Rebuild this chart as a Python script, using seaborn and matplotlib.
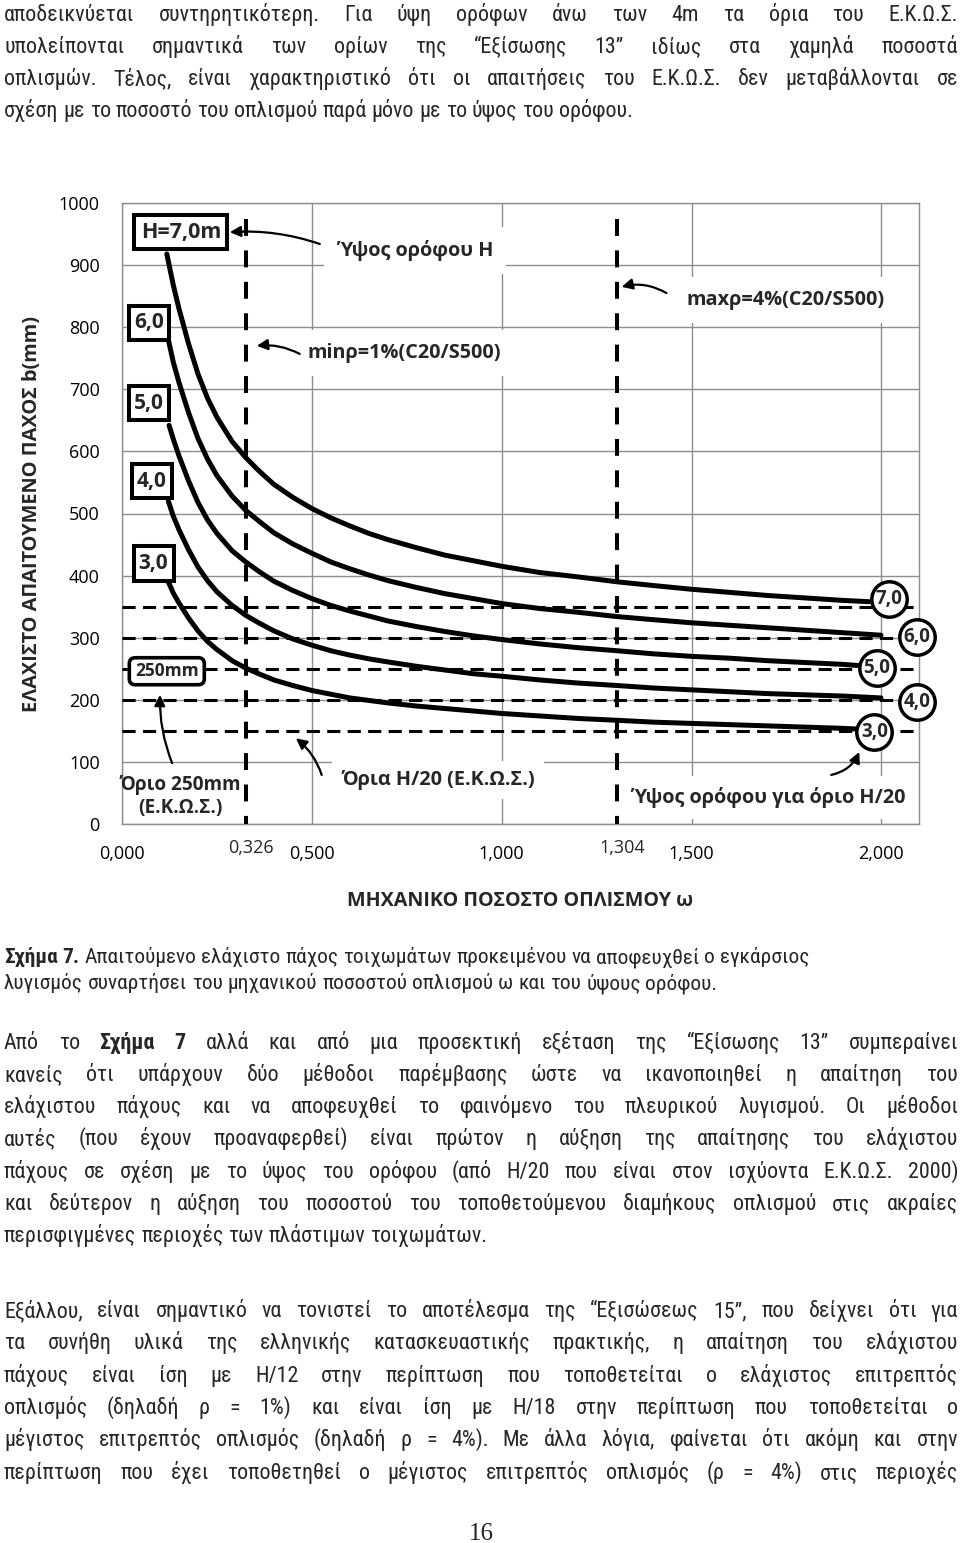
import math
import matplotlib
matplotlib.use("Agg")
import matplotlib.pyplot as plt
import matplotlib.transforms as mtransforms
from matplotlib.patches import FancyBboxPatch
from matplotlib.font_manager import FontProperties, fontManager
from matplotlib import ft2font
import seaborn as sns
import pandas as pd

# ---------------------------------------------------------------- data
curve_labels = ["3,0", "4,0", "5,0", "6,0", "7,0"]          # storey height H (m)

omega_h3 = [0.122, 0.135, 0.150, 0.175, 0.200, 0.225, 0.250, 0.290, 0.326, 0.360, 0.400, 0.450, 0.500, 0.550,
            0.600, 0.650, 0.700, 0.775, 0.850, 0.925, 1.000, 1.100, 1.200, 1.304, 1.400, 1.500, 1.600, 1.700,
            1.800, 1.900, 1.933]
b_h3 = [390, 372, 356, 332, 311, 294, 281, 263, 251, 242, 232, 223, 215, 209,
        203, 199, 195, 190, 186, 182, 178, 174, 170, 167, 164, 162, 160, 158,
        156, 154, 153]

omega_h4 = [0.122, 0.135, 0.150, 0.175, 0.200, 0.225, 0.250, 0.290, 0.326, 0.360, 0.400, 0.450, 0.500, 0.550,
            0.600, 0.650, 0.700, 0.775, 0.850, 0.925, 1.000, 1.100, 1.200, 1.304, 1.400, 1.500, 1.600, 1.700,
            1.800, 1.900, 1.999]
b_h4 = [520, 496, 474, 442, 414, 392, 374, 352, 336, 324, 311, 298, 288, 279,
        272, 266, 261, 254, 248, 242, 238, 232, 227, 223, 219, 216, 213, 210,
        208, 206, 203]

omega_h5 = [0.124, 0.135, 0.150, 0.175, 0.200, 0.225, 0.250, 0.290, 0.326, 0.360, 0.400, 0.450, 0.500, 0.550,
            0.600, 0.650, 0.700, 0.775, 0.850, 0.925, 1.000, 1.100, 1.200, 1.304, 1.400, 1.500, 1.600, 1.700,
            1.800, 1.900, 1.942]
b_h5 = [642, 620, 593, 553, 518, 490, 468, 440, 422, 407, 391, 376, 363, 352,
        343, 335, 327, 318, 310, 303, 297, 290, 284, 279, 274, 270, 267, 263,
        260, 257, 255]

omega_h6 = [0.122, 0.135, 0.150, 0.175, 0.200, 0.225, 0.250, 0.290, 0.326, 0.360, 0.400, 0.450, 0.500, 0.550,
            0.600, 0.650, 0.700, 0.775, 0.850, 0.925, 1.000, 1.100, 1.200, 1.304, 1.400, 1.500, 1.600, 1.700,
            1.800, 1.900, 1.999]
b_h6 = [780, 744, 711, 663, 621, 588, 561, 528, 505, 488, 469, 451, 436, 422,
        411, 401, 392, 381, 371, 363, 355, 347, 341, 334, 329, 324, 320, 316,
        312, 308, 304]

omega_h7 = [0.118, 0.135, 0.150, 0.175, 0.200, 0.225, 0.250, 0.290, 0.326, 0.360, 0.400, 0.450, 0.500, 0.550,
            0.600, 0.650, 0.700, 0.775, 0.850, 0.925, 1.000, 1.100, 1.200, 1.304, 1.400, 1.500, 1.600, 1.700,
            1.800, 1.900, 1.968]
b_h7 = [918, 868, 830, 774, 725, 686, 655, 616, 590, 569, 547, 526, 508, 493,
        480, 468, 458, 445, 433, 424, 415, 405, 398, 390, 384, 378, 373, 368,
        364, 360, 358]

h20_limits_mm = [150, 200, 250, 300, 350]         # H/20 limits (E.K.O.S.)
omega_limits = [0.326, 1.304]                      # min rho = 1 %, max rho = 4 %
omega_limit_labels = ["0,326", "1,304"]

x_ticks = [0.0, 0.5, 1.0, 1.5, 2.0]
x_tick_labels = ["0,000", "0,500", "1,000", "1,500", "2,000"]
y_ticks = [0, 100, 200, 300, 400, 500, 600, 700, 800, 900, 1000]

para1_lines = [
    "αποδεικνύεται συντηρητικότερη. Για ύψη ορόφων άνω των 4m τα όρια του Ε.Κ.Ω.Σ.",
    "υπολείπονται σημαντικά των ορίων της “Εξίσωσης 13” ιδίως στα χαμηλά ποσοστά",
    "οπλισμών. Τέλος, είναι χαρακτηριστικό ότι οι απαιτήσεις του Ε.Κ.Ω.Σ. δεν μεταβάλλονται σε",
    "σχέση με το ποσοστό του οπλισμού παρά μόνο με το ύψος του ορόφου.",
]
caption_lines = [
    "*Σχήμα *7. Απαιτούμενο ελάχιστο πάχος τοιχωμάτων προκειμένου να αποφευχθεί ο εγκάρσιος",
    "λυγισμός συναρτήσει του μηχανικού ποσοστού οπλισμού ω και του ύψους ορόφου.",
]
para2_lines = [
    "Από το *Σχήμα *7 αλλά και από μια προσεκτική εξέταση της “Εξίσωσης 13” συμπεραίνει",
    "κανείς ότι υπάρχουν δύο μέθοδοι παρέμβασης ώστε να ικανοποιηθεί η απαίτηση του",
    "ελάχιστου πάχους και να αποφευχθεί το φαινόμενο του πλευρικού λυγισμού. Οι μέθοδοι",
    "αυτές (που έχουν προαναφερθεί) είναι πρώτον η αύξηση της απαίτησης του ελάχιστου",
    "πάχους σε σχέση με το ύψος του ορόφου (από H/20 που είναι στον ισχύοντα Ε.Κ.Ω.Σ. 2000)",
    "και δεύτερον η αύξηση του ποσοστού του τοποθετούμενου διαμήκους οπλισμού στις ακραίες",
    "περισφιγμένες περιοχές των πλάστιμων τοιχωμάτων.",
]
para3_lines = [
    "Εξάλλου, είναι σημαντικό να τονιστεί το αποτέλεσμα της “Εξισώσεως 15”, που δείχνει ότι για",
    "τα συνήθη υλικά της ελληνικής κατασκευαστικής πρακτικής, η απαίτηση του ελάχιστου",
    "πάχους είναι ίση με H/12 στην περίπτωση που τοποθετείται ο ελάχιστος επιτρεπτός",
    "οπλισμός (δηλαδή ρ = 1%) και είναι ίση με H/18 στην περίπτωση που τοποθετείται ο",
    "μέγιστος επιτρεπτός οπλισμός (δηλαδή ρ = 4%). Με άλλα λόγια, φαίνεται ότι ακόμη και στην",
    "περίπτωση που έχει τοποθετηθεί ο μέγιστος επιτρεπτός οπλισμός (ρ = 4%) στις περιοχές",
]
page_number = "16"

# ---------------------------------------------------------------- fonts
sns.set_theme(style="white")
installed = {f.name for f in fontManager.ttflist}


def first_font(*names):
    for n in names:
        if n in installed:
            return n
    return "DejaVu Sans"


CHART_FONT = first_font("Open Sans", "Noto Sans", "DejaVu Sans")
SERIF_FONT = first_font("Liberation Serif", "DejaVu Serif")
plt.rcParams["font.family"] = [CHART_FONT, "DejaVu Sans"]

SAMPLE = "σχέση με το ποσοστό του οπλισμού παρά μόνο με το ύψος του ορόφου."
SANS_KEYS = ("Liberation Sans", "Roboto", "DejaVu Sans", "Noto Sans", "Open Sans", "Lato", "Inter", "Arial")
BAD_KEYS = ("Mono", "CJK", "Display", "Symbol", "Math", "Serif")


def weight_num(w):
    if isinstance(w, (int, float)):
        return int(w)
    return {"normal": 400, "regular": 400, "book": 400, "medium": 500, "bold": 700,
            "semibold": 600, "demibold": 600, "light": 300}.get(str(w).lower(), 0)


def font_ratio(path):
    f = ft2font.FT2Font(path)
    if f.get_char_index(ord("λ")) == 0 or f.get_char_index(ord("“")) == 0:
        return None
    f.set_size(100, 72)
    g = f.load_char(ord("H"))
    cap = g.height / 64.0
    f.set_text(SAMPLE)
    w = f.get_width_height()[0] / 64.0
    return w / cap if cap > 0 else None


def pick_body_font():
    cands, base = [], None
    for e in fontManager.ttflist:
        if e.style != "normal" or weight_num(e.weight) != 400:
            continue
        if not any(k in e.name for k in SANS_KEYS) or any(k in e.name for k in BAD_KEYS):
            continue
        try:
            r = font_ratio(e.fname)
        except Exception:
            r = None
        if r is None:
            continue
        cands.append((r, e))
        if e.name == "Liberation Sans" and e.stretch == "normal":
            base = r
    if not cands:
        return None, None
    if base is None:
        base = max(r for r, _ in cands)
    target = 0.84 * base
    r, e = min(cands, key=lambda c: abs(math.log(c[0] / target)))
    bold = None
    for e2 in fontManager.ttflist:
        if e2.name == e.name and e2.style == "normal" and weight_num(e2.weight) >= 600:
            if bold is None or (e2.stretch == e.stretch and bold.stretch != e.stretch):
                bold = e2
    return e, bold


BODY_ENTRY, BODY_BOLD_ENTRY = pick_body_font()


def body_props(size, weight="normal"):
    if weight == "bold":
        if BODY_BOLD_ENTRY is not None:
            return FontProperties(fname=BODY_BOLD_ENTRY.fname, size=size)
        if BODY_ENTRY is not None:
            return FontProperties(family=BODY_ENTRY.name, weight="bold", size=size)
        return FontProperties(family="Liberation Sans", weight="bold", size=size)
    if BODY_ENTRY is not None:
        return FontProperties(fname=BODY_ENTRY.fname, size=size)
    return FontProperties(family="Liberation Sans", size=size)


# ---------------------------------------------------------------- figure / axes
W_PX, H_PX = 960, 1543
fig = plt.figure(figsize=(W_PX / 100, H_PX / 100), dpi=100)
fig.patch.set_facecolor("white")
renderer = fig.canvas.get_renderer()

AX_L, AX_R, AX_T, AX_B = 122, 919.3, 203, 824
ax = fig.add_axes([AX_L / W_PX, 1 - AX_B / H_PX, (AX_R - AX_L) / W_PX, (AX_B - AX_T) / H_PX])
ax.set_xlim(0, 2.1)
ax.set_ylim(0, 1000)

GRID = "#8e8e8e"
ax.set_xticks(x_ticks)
ax.set_xticklabels(x_tick_labels)
ax.set_yticks(y_ticks)
ax.set_yticklabels([str(v) for v in y_ticks])
ax.grid(True, color=GRID, lw=1.0)
ax.set_axisbelow(True)
for sp in ax.spines.values():
    sp.set_visible(True)
    sp.set_color(GRID)
    sp.set_linewidth(1.0)
ax.tick_params(axis="both", length=0, labelsize=13, colors="black")
ax.tick_params(axis="x", pad=15)
ax.tick_params(axis="y", pad=16)

for om, lbl in zip(omega_limits, omega_limit_labels):
    ax.annotate(lbl, xy=(om, 0), xycoords=("data", "axes fraction"),
                xytext=(5, -24), textcoords="offset pixels",
                ha="center", va="center", fontsize=13)

# limit lines
for v in h20_limits_mm:
    ax.axhline(v, color="black", lw=2.2, dashes=(4.3, 2.4), zorder=4)
for om in omega_limits:
    ax.plot([om, om], [975, 0], color="black", lw=2.9, dashes=(4.2, 3.6), zorder=4)

# curves
curve_omegas = [omega_h3, omega_h4, omega_h5, omega_h6, omega_h7]
curve_bs = [b_h3, b_h4, b_h5, b_h6, b_h7]
curve_df = pd.concat(
    [pd.DataFrame({"omega": o, "b": b, "H": lbl}) for o, b, lbl in zip(curve_omegas, curve_bs, curve_labels)],
    ignore_index=True)
sns.lineplot(data=curve_df, x="omega", y="b", hue="H", palette=["black"] * 5,
             estimator=None, sort=False, lw=3.6, legend=False, ax=ax, zorder=5,
             solid_joinstyle="round")

ax.set_xlabel("ΜΗΧΑΝΙΚΟ ΠΟΣΟΣΤΟ ΟΠΛΙΣΜΟΥ ω", fontsize=14.2, fontweight="bold")
ax.xaxis.set_label_coords(0.499, -0.124)
ax.xaxis.label.set_va("center")
ax.set_ylabel("ΕΛΑΧΙΣΤΟ ΑΠΑΙΤΟΥΜΕΝΟ ΠΑΧΟΣ b(mm)", fontsize=14.4, fontweight="bold")
ax.yaxis.set_label_coords(-0.113, 0.5)
ax.yaxis.label.set_va("center")


# label boxes at curve starts (pixel-sized boxes)
def pixel_box(x, y, w, h, style="square,pad=0", lw=2.9):
    cx, cy = ax.transData.transform((x, y))
    patch = FancyBboxPatch((cx - w / 2, cy - h / 2), w, h, boxstyle=style,
                           transform=mtransforms.IdentityTransform(),
                           fc="white", ec="black", lw=lw, zorder=6, clip_on=False)
    ax.add_artist(patch)


start_boxes = [("H=7,0m", 0.155, 953, 93, 34, 15.5),
               ("6,0", 0.072, 807, 40, 34, 15),
               ("5,0", 0.071, 677.5, 40, 34, 15),
               ("4,0", 0.079, 552, 40, 34, 15),
               ("3,0", 0.083, 420, 40, 35, 15)]
for txt, x, y, w, h, fs in start_boxes:
    pixel_box(x, y, w, h)
    ax.text(x, y, txt, ha="center", va="center", fontsize=fs, fontweight="bold", zorder=7)

pixel_box(0.118, 246, 75, 27, style="round,pad=0,rounding_size=6", lw=2.6)
ax.text(0.118, 246, "250mm", ha="center", va="center", fontsize=12.5, fontweight="bold", zorder=7)

end_circles = [("7,0", 2.019, 362), ("6,0", 2.094, 301.6), ("5,0", 1.988, 250.7),
               ("4,0", 2.094, 197), ("3,0", 1.982, 148.6)]
for txt, x, y in end_circles:
    ax.plot([x], [y], "o", ms=25.5, mfc="white", mec="black", mew=2.5, zorder=6, clip_on=False)
    ax.text(x, y, txt, ha="center", va="center", fontsize=13.5, fontweight="bold", zorder=7, clip_on=False)

# annotations
white_box = dict(boxstyle="square,pad=0.65", fc="white", ec="none")
ann_fs = 14.3
ax.text(0.566, 924, "Ύψος ορόφου H", ha="left", va="center", fontsize=ann_fs, fontweight="bold",
        bbox=white_box, zorder=3)
ax.text(0.489, 758, "minρ=1%(C20/S500)", ha="left", va="center", fontsize=ann_fs, fontweight="bold",
        bbox=white_box, zorder=3)
ax.text(1.487, 844, "maxρ=4%(C20/S500)", ha="left", va="center", fontsize=ann_fs, fontweight="bold",
        bbox=white_box, zorder=3)
ax.text(0.153, 44, "Όριο 250mm\n(Ε.Κ.Ω.Σ.)", ha="center", va="center", multialignment="center",
        fontsize=13.7, fontweight="bold", linespacing=1.2, zorder=3)
ax.text(0.832, 71, "Όρια H/20 (Ε.Κ.Ω.Σ.)", ha="center", va="center", fontsize=ann_fs, fontweight="bold",
        bbox=dict(boxstyle="square,pad=0.45", fc="white", ec="none"), zorder=3)
ax.text(1.342, 43, "Ύψος ορόφου για όριο H/20", ha="left", va="center", fontsize=ann_fs, fontweight="bold",
        bbox=dict(boxstyle="square,pad=0.55", fc="white", ec="none"), zorder=3, clip_on=False)

arrows = [((0.521, 934), (0.284, 953), 0.10),
          ((0.468, 757), (0.355, 770), 0.15),
          ((1.434, 855), (1.316, 865), 0.20),
          ((0.132, 98), (0.100, 208), -0.10),
          ((0.526, 79), (0.458, 138), 0.15),
          ((1.868, 79), (1.942, 116), 0.25)]
for tail, head, rad in arrows:
    ax.annotate("", xy=head, xytext=tail,
                arrowprops=dict(arrowstyle="-|>", color="black", lw=1.6, mutation_scale=16,
                                shrinkA=0, shrinkB=0, connectionstyle=f"arc3,rad={rad}"),
                zorder=8)


# ---------------------------------------------------------------- page text
def text_width(s, size, weight="normal"):
    w, _, _ = renderer.get_text_width_height_descent(s, body_props(size, weight), ismath=False)
    return w


def line_width(line, size):
    tokens = line.split(" ")
    words = [(t.lstrip("*"), "bold" if t.startswith("*") else "normal") for t in tokens]
    space = text_width("n n", size) - text_width("nn", size)
    return sum(text_width(w, size, wt) for w, wt in words) + space * (len(words) - 1)


def draw_line(line, baseline_px, size, justify, left=4, right=958):
    tokens = line.split(" ")
    words = [(t.lstrip("*"), "bold" if t.startswith("*") else "normal") for t in tokens]
    widths = [text_width(w, size, wt) for w, wt in words]
    space = text_width("n n", size) - text_width("nn", size)
    if justify and len(words) > 1:
        gap = (right - left - sum(widths)) / (len(words) - 1)
    else:
        gap = space
    x = left
    for (w, wt), wd in zip(words, widths):
        fig.text(x / W_PX, 1 - baseline_px / H_PX, w, fontproperties=body_props(size, wt),
                 ha="left", va="baseline")
        x += wd + gap


body_size = 10 * 629 / line_width(para1_lines[-1], 10)
caption_size = 10 * (840 + 674) / (line_width(caption_lines[0], 10) + line_width(caption_lines[1], 10))

para1_base = [21, 53, 85, 117]
for i, (ln, yb) in enumerate(zip(para1_lines, para1_base)):
    draw_line(ln, yb, body_size, justify=i < len(para1_lines) - 1)

caption_base = [963, 989]
for ln, yb in zip(caption_lines, caption_base):
    draw_line(ln, yb, caption_size, justify=False)

para2_base = [1049, 1081, 1113, 1145, 1178, 1210, 1242]
for i, (ln, yb) in enumerate(zip(para2_lines, para2_base)):
    draw_line(ln, yb, body_size, justify=i < len(para2_lines) - 1)

para3_base = [1317, 1349, 1382, 1414, 1446, 1479]
for ln, yb in zip(para3_lines, para3_base):
    draw_line(ln, yb, body_size, justify=True)

fig.text(481 / W_PX, 1 - 1540 / H_PX, page_number, fontsize=18, family=SERIF_FONT,
         ha="center", va="baseline")

fig.savefig("out.png", dpi=100, facecolor="white")
